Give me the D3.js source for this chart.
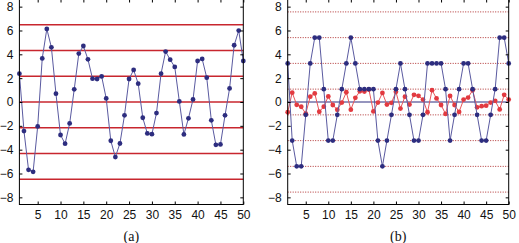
<!DOCTYPE html>
<html><head><meta charset="utf-8">
<script src="https://cdn.jsdelivr.net/npm/d3@7"></script>
<style>body{margin:0;background:#fff}svg{display:block}</style>
</head><body>
<script>
const n = d3.range(1, 51);
const signalA = [2.38,-2.44,-5.69,-5.86,-2.05,3.66,6.13,4.59,0.70,-2.77,-3.5,-1.8,1.06,4.06,4.7,3.58,1.96,1.93,2.15,0.3,-3.25,-4.62,-3.48,-1.12,1.93,2.69,1.54,-1.32,-2.64,-2.7,-0.93,2.38,4.23,3.55,2.94,0.05,-2.72,-1.37,0.22,3.44,3.61,2.04,-1.54,-3.59,-3.56,-1.12,1.14,4.76,5.99,3.44];
const quantB = [3.24,-3.24,-5.4,-5.4,-1.08,3.24,5.4,5.4,1.08,-3.24,-3.24,-1.08,1.08,3.24,5.4,3.24,1.08,1.08,1.08,1.08,-3.24,-5.4,-3.24,-1.08,1.08,3.24,1.08,-1.08,-3.24,-3.24,-1.08,3.24,3.24,3.24,3.24,1.08,-3.24,-1.08,1.08,3.24,3.24,1.08,-1.08,-3.24,-3.24,-1.08,1.08,5.4,5.4,3.24];
const errorB = [-0.86,0.78,-0.24,-0.4,-0.97,0.45,0.72,-0.82,-0.39,0.47,-0.25,-0.65,-0.05,0.82,-0.64,0.35,0.9,0.88,1.05,-0.79,-0.05,0.76,-0.22,-0.07,0.85,-0.55,0.45,-0.22,0.6,0.52,0.2,-0.86,0.99,0.3,-0.25,-1.0,0.51,-0.25,-0.83,0.2,0.37,0.98,-0.45,-0.35,-0.31,-0.05,0.1,-0.62,0.6,0.2];
const thresholdsA = [-6.48,-4.32,-2.16,0,2.16,4.32,6.48];
const levelsB = [-7.56,-5.4,-3.24,-1.08,1.08,3.24,5.4,7.56];
const yTicks = [-8,-6,-4,-2,0,2,4,6,8];
const xTicks = [5,10,15,20,25,30,35,40,45,50];
const labels = ["(a)","(b)"];

const W = 519, H = 243;
const navy = "#2d2d7f", navyLine = "#5a5aa0", red = "#c8262e", redDot = "#e23a40";
const svg = d3.select("body").append("svg").attr("width", W).attr("height", H);

const panels = [
  {left:19.4, right:243.3, label:labels[0]},
  {left:287.7, right:508.7, label:labels[1]}
];
const plotTop = -0.5, plotBottom = 204.5;

panels.forEach((p, k) => {
  const x = d3.scaleLinear().domain([1,50]).range([p.left, p.right]);
  const y = d3.scaleLinear().domain([-8.6,8.6]).range([plotBottom, plotTop]);
  const g = svg.append("g");
  const line = d3.line().x((d,i)=>x(n[i])).y(d=>y(d));

  if (k === 0) {
    g.selectAll("line.th").data(thresholdsA).join("line").attr("class","th")
      .attr("x1", p.left).attr("x2", p.right)
      .attr("y1", d=>y(d)).attr("y2", d=>y(d))
      .attr("stroke", red).attr("stroke-width", 1.3);
    g.append("path").datum(signalA).attr("d", line)
      .attr("fill","none").attr("stroke", navyLine).attr("stroke-width", 1);
    g.selectAll("circle").data(signalA).join("circle")
      .attr("cx",(d,i)=>x(n[i])).attr("cy",d=>y(d)).attr("r",2.4).attr("fill",navy);
  } else {
    g.selectAll("line.lv").data(levelsB).join("line").attr("class","lv")
      .attr("x1", p.left).attr("x2", p.right)
      .attr("y1", d=>y(d)).attr("y2", d=>y(d))
      .attr("stroke", "#b03030").attr("stroke-width", 1).attr("stroke-dasharray","1,1.5");
    g.append("line").attr("x1", p.left).attr("x2", p.right)
      .attr("y1", y(0)).attr("y2", y(0)).attr("stroke", navy).attr("stroke-width", 1.2);
    g.append("path").datum(errorB).attr("d", line)
      .attr("fill","none").attr("stroke", "#e8555a").attr("stroke-width", 1);
    g.selectAll("circle.e").data(errorB).join("circle").attr("class","e")
      .attr("cx",(d,i)=>x(n[i])).attr("cy",d=>y(d)).attr("r",2.4).attr("fill",redDot);
    g.append("path").datum(quantB).attr("d", line)
      .attr("fill","none").attr("stroke", navyLine).attr("stroke-width", 1);
    g.selectAll("circle.q").data(quantB).join("circle").attr("class","q")
      .attr("cx",(d,i)=>x(n[i])).attr("cy",d=>y(d)).attr("r",2.4).attr("fill",navy);
  }

  g.append("rect").attr("x",p.left).attr("y",plotTop).attr("width",p.right-p.left).attr("height",plotBottom-plotTop)
    .attr("fill","none").attr("stroke","#000").attr("stroke-width",1);

  const fs = "12px";
  const ax = d3.axisBottom(x).tickValues(xTicks).tickSize(-3).tickPadding(6).tickFormat(d3.format("d"));
  const gx = g.append("g").attr("transform",`translate(0,${plotBottom})`).call(ax);
  const axT = d3.axisTop(x).tickValues(xTicks).tickSize(-3).tickFormat("");
  const gxt = g.append("g").attr("transform",`translate(0,${plotTop})`).call(axT);
  const ay = d3.axisLeft(y).tickValues(yTicks).tickSize(-3).tickPadding(6).tickFormat(d=>d<0?"\u2212"+Math.abs(d):d);
  const gy = g.append("g").attr("transform",`translate(${p.left},0)`).call(ay);
  const ayR = d3.axisRight(y).tickValues(yTicks).tickSize(-3).tickFormat("");
  const gyr = g.append("g").attr("transform",`translate(${p.right},0)`).call(ayR);
  [gx,gxt,gy,gyr].forEach(a=>{
    a.select(".domain").remove();
    a.selectAll("line").attr("stroke","#000");
    a.selectAll("text").attr("font-family","Liberation Sans, Arial, sans-serif").attr("font-size",fs).attr("fill","#111");
  });

  svg.append("text").attr("x",(p.left+p.right)/2).attr("y",241)
    .attr("text-anchor","middle").attr("font-family","Liberation Serif, Times New Roman, serif")
    .attr("font-size","14px").attr("fill","#111").text(p.label);
});
</script>
</body></html>
